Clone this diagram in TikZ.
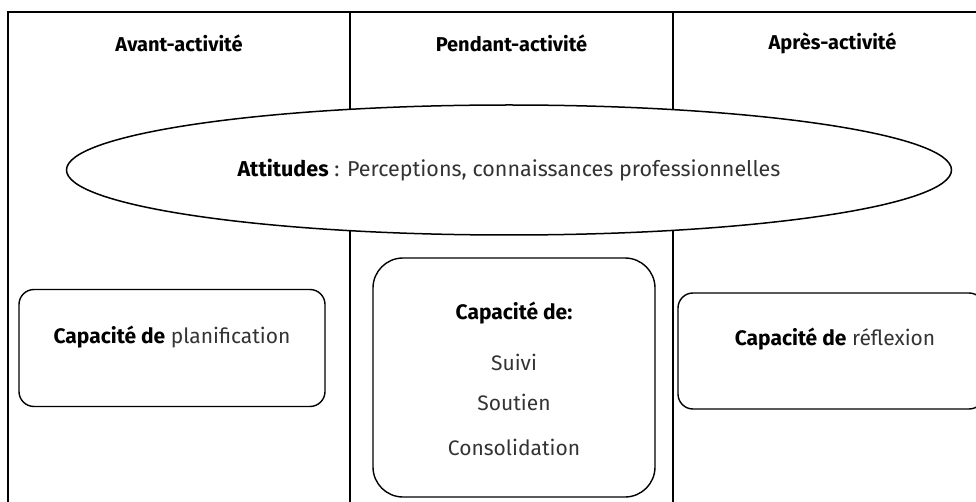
\documentclass[tikz,border=0pt]{standalone}
\usepackage{fontspec}
\setmainfont{Fira Sans}
\usetikzlibrary{positioning,shapes.geometric}
\tikzset{
    frame line/.style = {
        line width=1.7pt,
        },
    phase title/.style = {
        font=\fontsize{20}{24}\selectfont\bfseries,
        },
    attitude/.style = {
        ellipse,
        draw,
        fill = white,
        line width=1.5pt,
        minimum width=885pt,
        minimum height=130pt,
        inner sep=0pt,
        font=\fontsize{21.5}{26}\selectfont,
        text = black!80,
        },
    capacity box/.style = {
        draw,
        line width=1.4pt,
        rounded corners=15pt,
        fill = white,
        },
    capacity text/.style = {
        font=\fontsize{21}{26}\selectfont,
        text = black!80,
        },
}
\newcommand{\strongpart}[1]{{\color{black}\bfseries #1}}

\begin{document}
\begin{tikzpicture}[x=1pt, y=-1pt]
            \useasboundingbox (0,0) rectangle (976,502);
            \clip (0,0) rectangle (976,502);

            % Frame and columns
            \draw[frame line] (8,12) rectangle (992,520);
            \coordinate (c1top) at (350,12);
            \coordinate (c1bot) at (350,520);
            \coordinate (c2top) at (673,12);
            \coordinate (c2bot) at (673,520);
            \draw[frame line] (c1top) -- (c1bot);
            \draw[frame line] (c2top) -- (c2bot);

            % Phase titles
            \node [phase title] (avant) at (179,43) {Avant-activité};
            \node [phase title] (pendant) at (511.5,43) {Pendant-activité};
            \node [phase title] (apres) at (832.5,43) {Après-activité};

            % Attitudes
            \node [attitude] (attitudes) at (509,170)
                {\strongpart{Attitudes} : Perceptions, connaissances professionnelles};

            % Avant
            \node [capacity box, minimum width=306pt, minimum height=117pt] (avant box) at (172,348) {};
            \node [capacity text] (avant txt) at (172,337) {\strongpart{Capacité de} planification};

            % Pendant
            \node [capacity box, rounded corners=30pt, minimum width=282pt, minimum height=239pt] (pendant box) at (514,377.5) {};
            \node [capacity text] (pendant txt) at (514,313) {\strongpart{Capacité de:}};
            \node [capacity text] (suivi) at (514,362) {Suivi};
            \node [capacity text] (soutien) at (514,402) {Soutien};
            \node [capacity text] (consolidation) at (514,447) {Consolidation};

            % Apres
            \node [capacity box, minimum width=306pt, minimum height=116pt] (apres box) at (831,351) {};
            \node [capacity text] (apres txt) at (835,339) {\strongpart{Capacité de} réflexion};
        \end{tikzpicture}
\end{document}
